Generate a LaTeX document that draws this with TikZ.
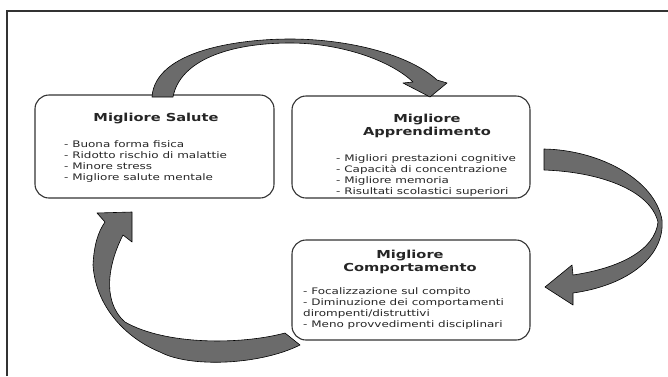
\documentclass[tikz,border=0pt]{standalone}
\usepackage{fontspec}
\newfontfamily\dvs[FakeStretch=1.33]{DejaVu Sans}
\begin{document}
\begin{tikzpicture}[x=1pt,y=-1pt,
  card/.style={draw=black!80, line width=1.1pt, rounded corners=14pt, fill=white, inner sep=0pt},
  ttl/.style={font=\dvs\fontsize{11}{13}\selectfont\bfseries, align=center, inner sep=0pt, text=black!85},
  lst/.style={font=\dvs\fontsize{9}{11}\selectfont, align=left, inner sep=0pt, anchor=north west, text=black!85},
  bigarrow/.style={fill=black!58, draw=black, line width=0.6pt, line join=round}]
\useasboundingbox (0,0) rectangle (668,376);
% frame
\draw[line width=1.4pt, black!80] (7,376) -- (7,11) -- (668,11);

% boxes
\node[card, minimum width=239pt, minimum height=103pt] (sal) at (154.5,146.5) {};
\node[card, minimum width=238pt, minimum height=102pt] (app) at (411,147) {};
\node[card, minimum width=238pt, minimum height=100pt] (com) at (411,290) {};

% texts
\node[ttl] (salt) at (156,119) {Migliore Salute};
\node[lst] (sall) at (64,140.5) {- Buona forma fisica\\- Ridotto rischio di malattie\\- Minore stress\\- Migliore salute mentale};

\node[ttl] (appt) at (427,126) {Migliore\\Apprendimento};
\node[lst] (appl) at (336,154.5) {- Migliori prestazioni cognitive\\- Capacità di concentrazione\\- Migliore memoria\\- Risultati scolastici superiori};

\node[ttl] (comt) at (410,261.5) {Migliore\\Comportamento};
\node[lst] (coml) at (303,287.5) {- Focalizzazione sul compito\\- Diminuzione dei comportamenti\\dirompenti/distruttivi\\- Meno provvedimenti disciplinari};

% top arrow (salute -> apprendimento)
\draw[bigarrow] (152,97) .. controls (155,50) and (240,39) .. (290,39)
  .. controls (350,39) and (410,55) .. (437,80) -- (447,83) -- (430,97) -- (403,83) -- (413,82)
  .. controls (390,60) and (340,43) .. (290,43)
  .. controls (230,43) and (180,60) .. (173,97) -- cycle;

% right arrow (apprendimento -> comportamento)
\draw[bigarrow] (544,149) .. controls (600,150) and (655,180) .. (662,220)
  .. controls (665,255) and (630,285) .. (573,293) -- (573,305) -- (545,287) -- (572,265) -- (573,275)
  .. controls (620,268) and (655,250) .. (658,222)
  .. controls (650,190) and (600,172) .. (544,170) -- cycle;

% bottom-left arrow (comportamento -> salute)
\draw[bigarrow] (300,345) .. controls (260,365) and (190,368) .. (160,352)
  .. controls (130,340) and (96,310) .. (93,265)
  .. controls (94,245) and (98,232) .. (105,222) -- (97,213) -- (132,212) -- (132,242) -- (123,235)
  .. controls (110,260) and (100,300) .. (125,322)
  .. controls (165,345) and (240,345) .. (285,333) -- cycle;
\end{tikzpicture}
\end{document}
